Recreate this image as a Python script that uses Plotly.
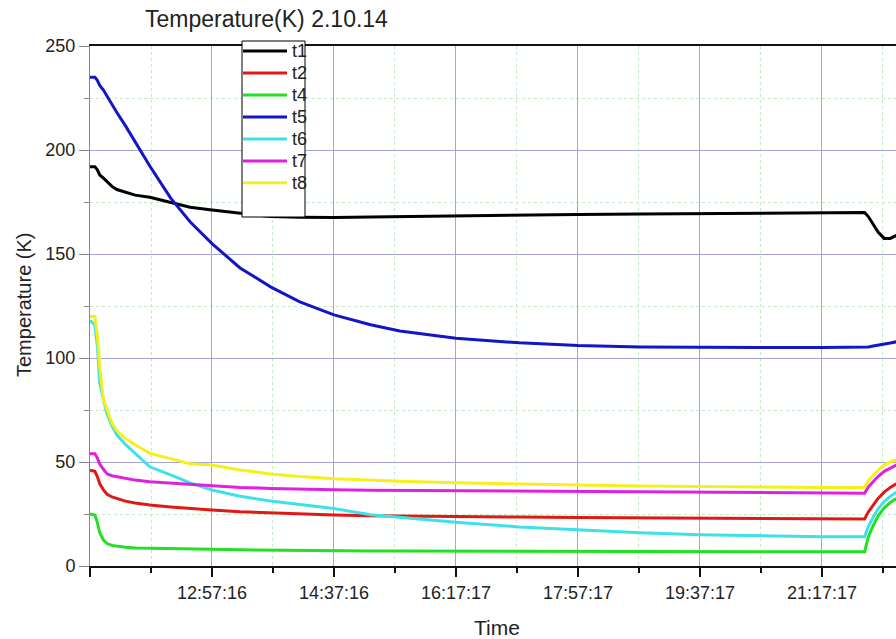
import datetime as dt
import plotly.graph_objects as go

# ---------------- data ----------------
start_time = "2014-10-02 11:17:16"
elapsed_min = [0, 4, 6, 8, 11, 14, 18, 22, 29, 37, 49, 66, 82, 100, 123, 148, 172,
               200, 230, 254, 300, 352, 400, 451, 500, 549, 600, 635, 638, 642,
               646, 651, 656, 661]

t1 = [192, 192, 190.5, 188, 186.5, 184.7, 182.5, 181, 179.8, 178.3, 177.3, 175, 172.5,
      171.2, 169.6, 168, 167.7, 167.5, 167.8, 168, 168.3, 168.8, 169, 169.2, 169.5,
      169.7, 170, 170, 168, 164.5, 160.5, 157.5, 157.5, 159]
t2 = [46, 45.5, 43, 39.5, 36.6, 34.5, 33.2, 32.4, 31.2, 30.3, 29.3, 28.4, 27.6, 26.9,
      26.1, 25.5, 24.9, 24.5, 24.2, 24, 23.7, 23.5, 23.3, 23.1, 23, 22.8, 22.6, 22.6,
      26, 29, 32.5, 35.5, 37.8, 39.5]
t4 = [25, 24.5, 21, 16, 12.5, 10.8, 9.9, 9.5, 9, 8.7, 8.5, 8.3, 8.1, 8, 7.8, 7.6, 7.4,
      7.3, 7.2, 7.2, 7.1, 7.1, 7, 7, 7, 6.9, 6.9, 6.9, 14, 19.5, 24, 28, 30.5, 32.5]
t5 = [235, 235, 233.5, 231, 228.8, 225.8, 221.8, 218, 211.7, 204, 192.3, 177, 165.5,
      155, 143.3, 134.2, 127, 120.7, 116, 113, 109.5, 107.3, 106, 105.3, 105, 105,
      105, 105, 105.3, 105.8, 106.3, 106.8, 107.2, 107.8]
t6 = [118, 116, 106, 88, 80, 73, 67.5, 63, 58.5, 54.1, 47.7, 43.8, 40, 36.5, 33.5, 31.2,
      29.5, 27.6, 24.6, 23.4, 21, 18.8, 17.3, 16, 15, 14.5, 14.1, 14.1, 19, 23.5, 27.5,
      31, 33.5, 35.5]
t7 = [54, 54, 52, 49, 46.5, 44.3, 43.4, 42.9, 42, 41.3, 40.5, 39.8, 39.2, 38.6, 37.8,
      37.3, 36.9, 36.6, 36.4, 36.3, 36.1, 35.9, 35.8, 35.6, 35.4, 35.2, 35, 35, 38,
      40.5, 43, 45.5, 47, 48.5]
t8 = [120, 120, 111, 95.8, 80, 75, 68.7, 65, 61.3, 58.3, 54.2, 51.6, 49.2, 48.6, 46.2,
      44.2, 43, 42, 41.2, 40.7, 40, 39.3, 38.9, 38.5, 38.1, 38, 37.8, 37.8, 41, 43.5,
      46, 48.5, 50, 51]

series_names = ["t1", "t2", "t4", "t5", "t6", "t7", "t8"]
series_values = [t1, t2, t4, t5, t6, t7, t8]
series_colors = ["#000000", "#e01818", "#22e022", "#1414c8", "#3ee0ea", "#e020e0", "#f4f01e"]

tick_labels = ["", "12:57:16", "14:37:16", "16:17:17", "17:57:17", "19:37:17", "21:17:17"]
tick_minutes = [0, 100, 200, 300, 400, 500, 600]
x_end_min = 660.7

# ---------------- figure ----------------
t0 = dt.datetime.strptime(start_time, "%Y-%m-%d %H:%M:%S")
xs = [t0 + dt.timedelta(minutes=m) for m in elapsed_min]

fig = go.Figure()
for name, vals, col in zip(series_names, series_values, series_colors):
    fig.add_trace(go.Scatter(x=xs, y=vals, mode="lines",
                             name='<span style="font-size:18px">%s</span>' % name,
                             line=dict(color=col, width=3)))

font_family = "Liberation Sans, Arial, sans-serif"
W, H = 896, 639
L, T, B = 90, 46, 73
PW, PH = W - L, H - T - B

def px_x(p):
    return (p - L) / PW

def px_y(p):
    return (H - B - p) / PH

fig.update_layout(
    width=W, height=H,
    margin=dict(l=L, r=0, t=T, b=B),
    paper_bgcolor="white", plot_bgcolor="white",
    font=dict(family=font_family, color="#222222", size=18),
    title=dict(text="Temperature(K) 2.10.14", x=145 / W, xanchor="left",
               xref="container", y=1 - 19 / H, yanchor="middle",
               font=dict(size=23, family=font_family, color="#222222")),
    showlegend=True,
    legend=dict(x=px_x(238), y=px_y(35), xanchor="left", yanchor="top",
                bgcolor="rgba(0,0,0,0)", borderwidth=0,
                font=dict(size=14.6, family=font_family, color="#222222"),
                tracegroupgap=0, itemwidth=44),
)

# legend frame
fig.add_shape(type="rect", xref="paper", yref="paper",
              x0=px_x(242), x1=px_x(305), y0=px_y(217), y1=px_y(41),
              fillcolor="white", line=dict(color="#000000", width=1), layer="above")

fig.update_xaxes(
    type="date",
    range=[t0, t0 + dt.timedelta(minutes=x_end_min)],
    tickmode="array",
    tickvals=[t0 + dt.timedelta(minutes=m) for m in tick_minutes],
    ticktext=tick_labels,
    ticks="outside", ticklen=9, tickwidth=2, tickcolor="#111111",
    showline=True, linecolor="#111111", linewidth=2, mirror=True,
    showgrid=True, gridcolor="#a4a4d8", gridwidth=1,
    minor=dict(tick0=t0, dtick=50 * 60 * 1000, ticks="outside", ticklen=5,
               tickwidth=2, tickcolor="#111111", showgrid=True,
               gridcolor="#c8e6c8", griddash="dot", gridwidth=1),
    tickfont=dict(size=18, family=font_family, color="#222222"),
    zeroline=False,
)
fig.update_yaxes(
    range=[0, 250],
    tickmode="linear", tick0=0, dtick=50,
    ticks="outside", ticklen=10, tickwidth=1, tickcolor="#888888",
    showline=True, linecolor="#888888", linewidth=1,
    showgrid=True, gridcolor="#a4a4d8", gridwidth=1,
    minor=dict(dtick=25, ticks="outside", ticklen=5, tickcolor="#888888",
               showgrid=True, gridcolor="#c8e6c8", griddash="dot", gridwidth=1),
    tickfont=dict(size=18, family=font_family, color="#222222"),
    zeroline=False,
)

fig.add_annotation(text="Temperature (K)", xref="paper", yref="paper",
                   x=px_x(24), y=px_y(305), textangle=-90,
                   showarrow=False, xanchor="center", yanchor="middle",
                   font=dict(size=20, family=font_family, color="#222222"))
fig.add_annotation(text="Time", xref="paper", yref="paper",
                   x=px_x(497), y=px_y(627),
                   showarrow=False, xanchor="center", yanchor="middle",
                   font=dict(size=21, family=font_family, color="#222222"))

fig.write_html("out.html", config={"displayModeBar": False},
               post_script="document.body.style.margin='0';"
                           "document.body.style.overflow='hidden';")
